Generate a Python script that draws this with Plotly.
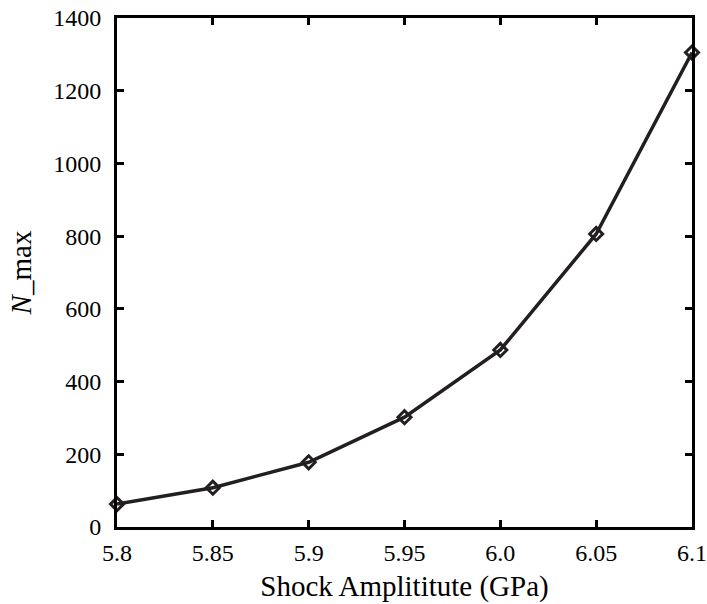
import plotly.graph_objects as go

# Maximum N versus shock amplitude
amplitude = [5.8, 5.85, 5.9, 5.95, 6.0, 6.05, 6.1]
n_max = [63, 108, 178, 302, 487, 806, 1305]

x_ticks = [5.8, 5.85, 5.9, 5.95, 6.0, 6.05, 6.1]
x_tick_text = ["5.8", "5.85", "5.9", "5.95", "6.0", "6.05", "6.1"]
y_ticks = [0, 200, 400, 600, 800, 1000, 1200, 1400]

ink = "#231f20"
serif = "Liberation Serif"

fig = go.Figure(
    go.Scatter(
        x=amplitude,
        y=n_max,
        mode="lines+markers",
        line=dict(color=ink, width=3.5),
        marker=dict(symbol="diamond-open", size=10, color=ink,
                    line=dict(color=ink, width=3)),
        cliponaxis=False,
    )
)

tick_font = dict(family=serif, size=24, color="black")
title_font = dict(family=serif, size=29, color="black")

fig.update_layout(
    width=707, height=604, autosize=False,
    margin=dict(l=117, r=15, t=18, b=77),
    paper_bgcolor="white", plot_bgcolor="white",
    showlegend=False,
    font=dict(family=serif, size=24, color="black"),
)

fig.update_xaxes(
    range=[5.8, 6.1], tickvals=x_ticks, ticktext=x_tick_text,
    showline=True, linecolor="black", linewidth=3, mirror="ticks",
    ticks="inside", ticklen=7, tickwidth=3, tickcolor="black",
    showgrid=False, zeroline=False, automargin=False,
    tickfont=tick_font, ticklabelstandoff=2,
    title_text="Shock Amplititute (GPa)", title_font=title_font,
    title_standoff=11,
)
fig.update_yaxes(
    range=[0, 1400], tickvals=y_ticks,
    showline=True, linecolor="black", linewidth=3, mirror="ticks",
    ticks="inside", ticklen=7, tickwidth=3, tickcolor="black",
    showgrid=False, zeroline=False, automargin=False,
    tickfont=tick_font, ticklabelstandoff=8,
    title_text="<i>N</i>_max", title_font=title_font,
    title_standoff=14,
)

fig.write_html("out.html")
